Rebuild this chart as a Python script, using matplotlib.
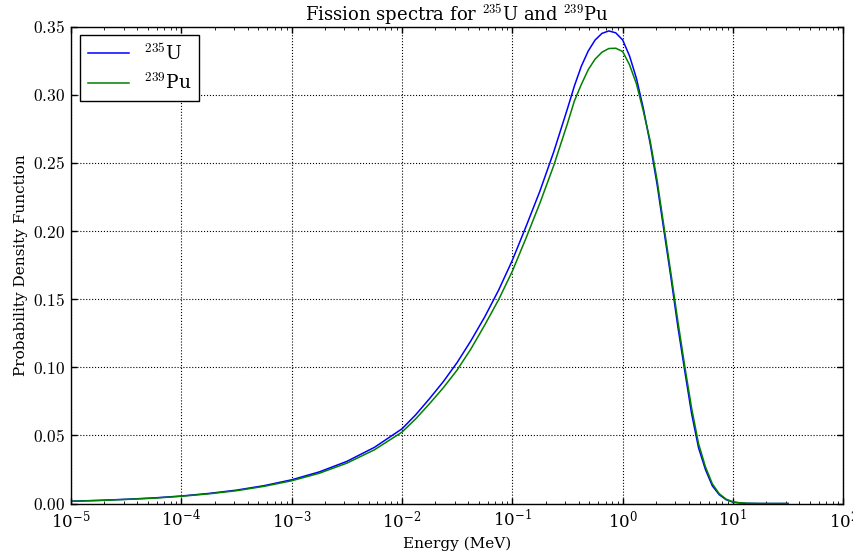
import matplotlib
matplotlib.use("Agg")
import matplotlib.pyplot as plt
from matplotlib.ticker import LogLocator, FuncFormatter

plt.rcParams['font.family'] = ['DejaVu Serif']
plt.rcParams['mathtext.fontset'] = 'cm'

energy = [1.0e-5, 1.78e-5, 3.16e-5, 5.62e-5, 1.0e-4, 1.78e-4, 3.16e-4, 5.62e-4,
          1.0e-3, 1.78e-3, 3.16e-3, 5.62e-3,
          0.01, 0.01334, 0.01778, 0.02371, 0.03162, 0.04217, 0.05623, 0.07499,
          0.1, 0.1334, 0.1778, 0.2371, 0.3162,
          0.3652, 0.4217, 0.4870, 0.5623, 0.6494, 0.7499, 0.8660, 1.0,
          1.155, 1.334, 1.540, 1.778, 2.054, 2.371, 2.738, 3.162, 3.652, 4.217,
          4.870, 5.623, 6.494, 7.499, 8.660, 10.0, 11.55, 13.34, 17.78, 31.62]

pdf_u235 = [0.0017, 0.0023, 0.0031, 0.0041, 0.0055, 0.0074, 0.0098, 0.0131,
            0.0174, 0.0232, 0.0309, 0.0412,
            0.0548, 0.0652, 0.0770, 0.0895, 0.1035, 0.1195, 0.1370, 0.1565,
            0.1785, 0.2035, 0.2293, 0.2580, 0.2899,
            0.3065, 0.3209, 0.3321, 0.3402, 0.3451, 0.3469, 0.3455, 0.3403,
            0.3285, 0.3120, 0.2900, 0.2640, 0.2340, 0.2000, 0.1660, 0.1300, 0.0975, 0.0660,
            0.0410, 0.0250, 0.0130, 0.0065, 0.0028, 0.0010, 0.0004, 0.0001, 0.0, 0.0]

pdf_pu239 = [0.0016, 0.0022, 0.0030, 0.0039, 0.0053, 0.0071, 0.0094, 0.0126,
             0.0167, 0.0222, 0.0296, 0.0394,
             0.0524, 0.0622, 0.0733, 0.0850, 0.0980, 0.1135, 0.1310, 0.1495,
             0.1705, 0.1950, 0.2205, 0.2480, 0.2790,
             0.2955, 0.3075, 0.3184, 0.3262, 0.3313, 0.3340, 0.3342, 0.3318,
             0.3220, 0.3080, 0.2880, 0.2660, 0.2370, 0.2030, 0.1690, 0.1340, 0.1010, 0.0700,
             0.0440, 0.0270, 0.0145, 0.0072, 0.0032, 0.0012, 0.0005, 0.0002, 0.0, 0.0]

labels = [r'$^{235}$U', r'$^{239}$Pu']

fig = plt.figure(figsize=(8.54, 5.53), dpi=100)
ax = fig.add_axes([0.0831, 0.0895, 0.9044, 0.8622])

ax.plot(energy, pdf_u235, color='b', lw=1.1, label=labels[0])
ax.plot(energy, pdf_pu239, color=(0, 0.5, 0), lw=1.1, label=labels[1])

ax.set_xscale('log')
ax.set_xlim(1e-5, 1e2)
ax.set_ylim(0, 0.35)
ax.set_yticks([0.0, 0.05, 0.10, 0.15, 0.20, 0.25, 0.30, 0.35])
ax.yaxis.set_major_formatter(FuncFormatter(lambda v, p: r'$%.2f$' % v))
ax.xaxis.set_major_locator(LogLocator(base=10, numticks=20))
ax.xaxis.set_minor_locator(LogLocator(base=10, subs=range(2, 10), numticks=20))

ax.tick_params(which='both', direction='in', top=True, right=True, pad=4)
ax.tick_params(axis='y', labelsize=12.5)
ax.tick_params(axis='x', labelsize=12)
ax.tick_params(which='major', length=4, width=1)
ax.tick_params(which='minor', length=2, width=0.6)
for s in ax.spines.values():
    s.set_linewidth(1.0)

ax.grid(True, which='major', color='k', linestyle=':', linewidth=0.8)

ax.set_title(r'Fission spectra for $^{235}$U and $^{239}$Pu', fontsize=13, pad=3)
ax.set_xlabel('Energy (MeV)', fontsize=11)
ax.set_ylabel('Probability Density Function', fontsize=11)

leg = ax.legend(loc='upper left', bbox_to_anchor=(0.012, 0.982), fontsize=13.5,
                fancybox=False, framealpha=1, edgecolor='k', handlelength=2.2,
                borderaxespad=0, labelspacing=0.45)
leg.get_frame().set_linewidth(1.0)

fig.savefig('out.png', dpi=100)
